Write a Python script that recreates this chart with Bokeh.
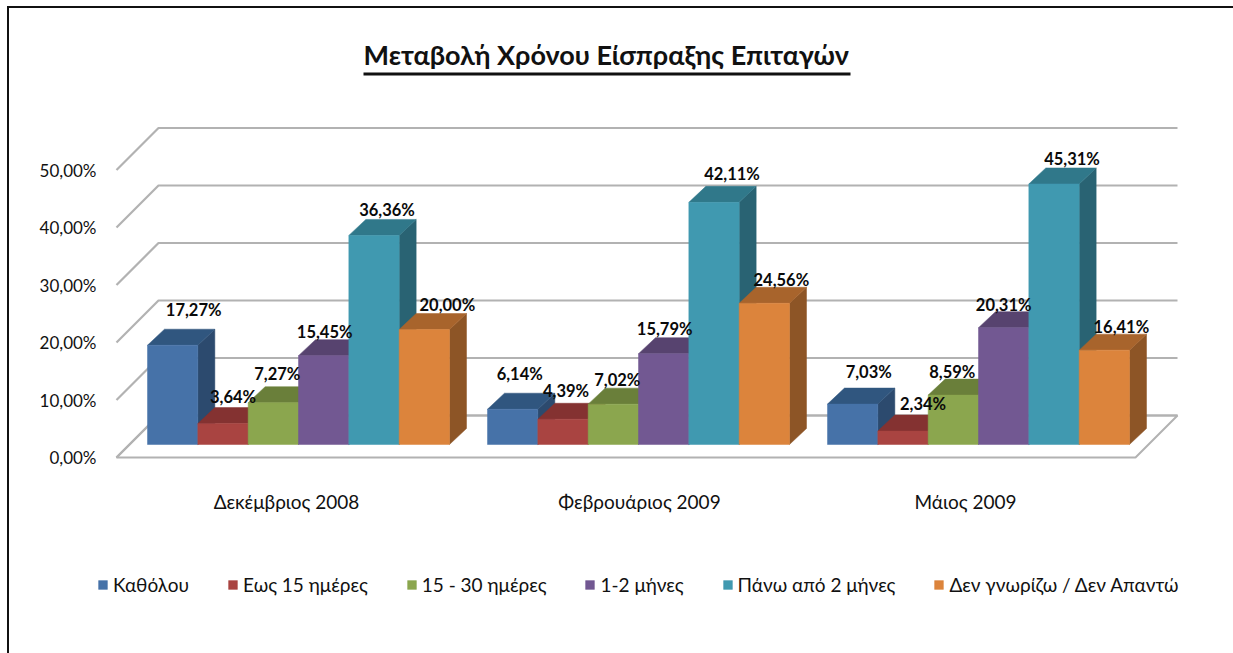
from bokeh.plotting import figure
from bokeh.models import (ColumnDataSource, Range1d, LinearAxis, FixedTicker, Legend, LegendItem)
from bokeh.embed import file_html
from bokeh.resources import INLINE

title_text = "Μεταβολή Χρόνου Είσπραξης Επιταγών"
periods = ["Δεκέμβριος 2008", "Φεβρουάριος 2009", "Μάιος 2009"]
series_names = ["Καθόλου", "Εως 15 ημέρες", "15 - 30 ημέρες", "1-2 μήνες", "Πάνω από 2 μήνες", "Δεν γνωρίζω / Δεν Απαντώ"]
katholou = [17.27, 6.14, 7.03]
eos15 = [3.64, 4.39, 2.34]
d15_30 = [7.27, 7.02, 8.59]
m1_2 = [15.45, 15.79, 20.31]
pano2 = [36.36, 42.11, 45.31]
dk_da = [20.00, 24.56, 16.41]
value_ticks = [0, 10, 20, 30, 40, 50]
value_tick_labels = ["0,00%", "10,00%", "20,00%", "30,00%", "40,00%", "50,00%"]

series = [katholou, eos15, d15_30, m1_2, pano2, dk_da]
front = ["#4672A8", "#A94441", "#8BA64E", "#725892", "#4099B0", "#DC843C"]
top_c = ["#30567F", "#843231", "#6A7F3A", "#57436F", "#30788A", "#A8642C"]
side_c = ["#2C4A6E", "#722C2B", "#5C6E32", "#4B3A60", "#296373", "#8D5526"]
# label nudges in screen pixels, per series then per period
nudge_x = [[21, 7, 16], [10, 3, 20], [4, 4, -1], [1, 1, 0], [13, 18, 18], [23, 17, 17]]
nudge_y = [[35, 35, 32], [27, 28, 27], [29, 24, 23], [24, 25, 23], [25, 28, 25], [25, 23, 23]]

FONT = "Lato"
ML, MT = 7, 6
W, H, TOP = 1233 - ML, 653 - MT, 62
PXU, PYU = 340.0, 5.75  # pixels per group, pixels per percent
def ux(page_x): return (page_x - 298) / PXU
def uy(page_y): return (457 - page_y) / PYU

bw = 50.33 / PXU
ddx, ddy = 17 / PXU, 16 / PYU
base = 13 / PYU
wdx, wdy = 42 / PXU, 42 / PYU
xL, xR = ux(116), ux(1135)

p = figure(width=W, height=H, output_backend="svg", toolbar_location=None,
           x_range=Range1d(ux(ML + 2), ux(ML + 2 + W)), y_range=Range1d(uy(MT + 2 + H), uy(MT + 2 + TOP)),
           x_axis_type=None, y_axis_type=None, min_border_left=0, min_border_right=0,
           min_border_bottom=0, min_border_top=TOP, outline_line_color=None,
           margin=(MT, 0, 0, ML),
           styles={"border-top": "2px solid #111", "border-left": "2px solid #111",
                   "box-sizing": "border-box"})
p.grid.visible = False
p.title.text = title_text
p.title.align = "left"
p.title.offset = 354
p.title.standoff = 0
p.title.text_font = FONT
p.title.text_font_size = "27px"
p.title.text_font_style = "bold"
p.title.text_color = "#111111"

# floor and walls
grid = "#b2b2b2"
p.patch([xL, xR, xR + wdx, xL + wdx], [0, 0, wdy, wdy], fill_color="white", line_color=grid, line_width=2)
for v in value_ticks:
    p.line([xL, xL + wdx, xR + wdx], [v, v + wdy, v + wdy], line_color=grid, line_width=2.2)

# bars, left to right
items = []
for j, vals in enumerate(series):
    xs = [g + (j - 2.5) * bw for g in range(3)]
    tops = [v + base for v in vals]
    side_x = [[x + bw / 2, x + bw / 2 + ddx, x + bw / 2 + ddx, x + bw / 2] for x in xs]
    side_y = [[base, base + ddy, t + ddy, t] for t in tops]
    top_x = [[x - bw / 2, x - bw / 2 + ddx, x + bw / 2 + ddx, x + bw / 2] for x in xs]
    top_y = [[t, t + ddy, t + ddy, t] for t in tops]
    p.patches(side_x, side_y, fill_color=side_c[j], line_color=side_c[j], line_width=0.5)
    p.patches(top_x, top_y, fill_color=top_c[j], line_color=top_c[j], line_width=0.5)
    r = p.vbar(x=xs, width=bw, bottom=base, top=tops, fill_color=front[j], line_color=front[j], line_width=0.5)
    items.append(LegendItem(label=series_names[j], renderers=[r]))

# value labels
for j, vals in enumerate(series):
    xs = [g + (j - 2.5) * bw for g in range(3)]
    src = ColumnDataSource(dict(x=xs, y=[v + base for v in vals],
                                t=[f"{v:.2f}%".replace(".", ",") for v in vals],
                                dx=nudge_x[j], dy=[-n for n in nudge_y[j]]))
    p.text("x", "y", text="t", source=src, x_offset="dx", y_offset="dy", text_align="center",
           text_baseline="middle", text_font_size="16.5px", text_font_style="bold",
           text_color="#0a0a0a", text_font={"value": FONT})

# title underline
p.line([ux(363), ux(850)], [uy(73.5), uy(73.5)], line_color="#111111", line_width=3)

# axes placed on the front plane
ya = LinearAxis(fixed_location=ux(105), ticker=FixedTicker(ticks=value_ticks),
                major_label_overrides=dict(zip(value_ticks, value_tick_labels)),
                axis_line_color=None, major_tick_line_color=None, minor_tick_line_color=None,
                major_label_text_font=FONT, major_label_text_font_size="17px",
                major_label_text_color="#111111", major_label_standoff=3)
p.add_layout(ya, "left")
cat_ticks = [ux(286), ux(639), ux(965)]
xa = LinearAxis(fixed_location=uy(483), ticker=FixedTicker(ticks=cat_ticks),
                major_label_overrides=dict(zip(cat_ticks, periods)),
                axis_line_color=None, major_tick_line_color=None, minor_tick_line_color=None,
                major_label_text_font=FONT, major_label_text_font_size="19px",
                major_label_text_color="#111111", major_label_standoff=0)
p.add_layout(xa, "below")

legend = Legend(items=items, orientation="horizontal", location=(88, 59), background_fill_alpha=0,
                border_line_color=None, glyph_width=11, glyph_height=11, label_standoff=5, spacing=38,
                padding=0, margin=0, label_text_font=FONT, label_text_font_size="19px",
                label_text_color="#111111")
p.add_layout(legend, "center")

open("out.html", "w").write(file_html(p, INLINE))
